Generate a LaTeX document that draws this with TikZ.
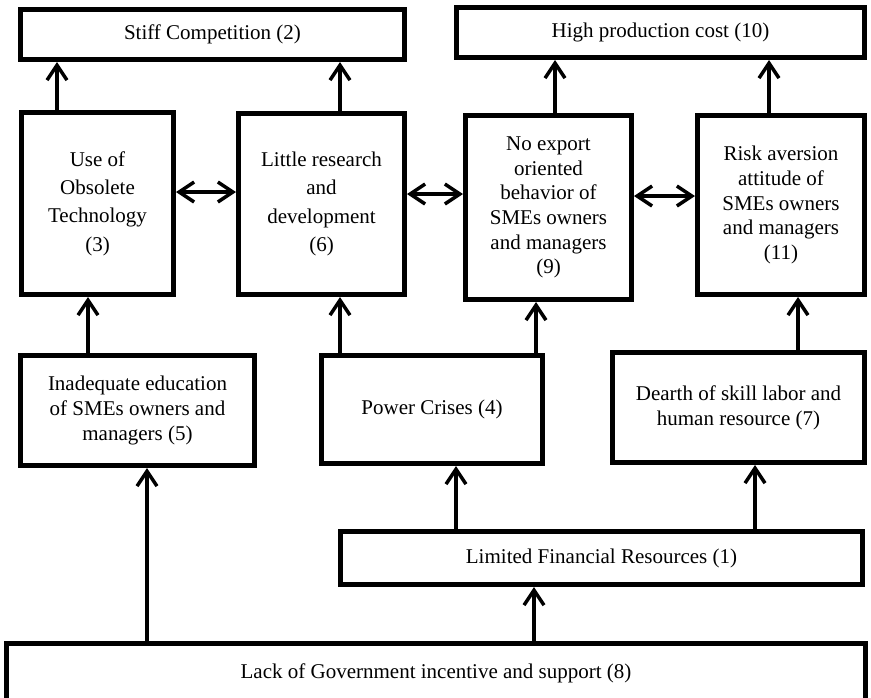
\documentclass[tikz,border=0pt]{standalone}
\usepackage{fontspec}
\setmainfont{Liberation Serif}
\usetikzlibrary{arrows.meta}
\tikzset{
  box/.style={draw=black, line width=5pt, inner sep=0pt, align=center,
              font=\fontsize{21}{24.7}\selectfont},
  wide/.style={font=\fontsize{21}{28.3}\selectfont},
  arr/.style={line width=3.5pt, -{Straight Barb[length=15pt,width=20pt]}},
  darr/.style={line width=3.5pt, {Straight Barb[length=15pt,width=20pt]}-{Straight Barb[length=15pt,width=20pt]}}
}
\begin{document}
\begin{tikzpicture}[x=1pt,y=-1pt]
\useasboundingbox (0,0) rectangle (871,697);
\node[box, minimum width=384pt, minimum height=50pt] (n2) at (212.5,34.5) {Stiff Competition (2)};
\node[box, minimum width=408pt, minimum height=50pt] (n10) at (660.5,32.5) {High production cost (10)};
\node[box, wide, minimum width=152pt, minimum height=182pt] (n3) at (97.5,203.5) {Use of\\Obsolete\\Technology\\(3)};
\node[box, wide, minimum width=166pt, minimum height=181pt] (n6) at (321.5,204) {Little research\\and\\development\\(6)};
\node[box, minimum width=166pt, minimum height=184pt] (n9) at (548.5,207.5) {No export\\oriented\\behavior of\\SMEs owners\\and managers\\(9)};
\node[box, minimum width=167pt, minimum height=179pt] (n11) at (781,205) {Risk aversion\\attitude of\\SMEs owners\\and managers\\(11)};
\node[box, minimum width=234pt, minimum height=110pt] (n5) at (137.5,410.5) {Inadequate education\\of SMEs owners and\\managers (5)};
\node[box, minimum width=221pt, minimum height=108pt] (n4) at (432,409.5) {Power Crises (4)};
\node[box, minimum width=252pt, minimum height=110pt] (n7) at (738.5,407.5) {Dearth of skill labor and\\human resource (7)};
\node[box, minimum width=522pt, minimum height=53pt] (n1) at (601.5,558) {Limited Financial Resources (1)};
\node[box, minimum width=859pt, minimum height=59pt] (n8) at (436,673) {Lack of Government incentive and support (8)};

\draw[arr] (n3.north -| 57,0) -- (n2.south -| 57,0);
\draw[arr] (n6.north -| 340,0) -- (n2.south -| 340,0);
\draw[arr] (n9.north -| 555,0) -- (n10.south -| 555,0);
\draw[arr] (n11.north -| 769,0) -- (n10.south -| 769,0);
\draw[arr] (n5.north -| 88,0) -- (n3.south -| 88,0);
\draw[arr] (n4.north -| 340,0) -- (n6.south -| 340,0);
\draw[arr] (n4.north -| 536,0) -- (n9.south -| 536,0);
\draw[arr] (n7.north -| 798,0) -- (n11.south -| 798,0);
\draw[arr] (n8.north -| 147,0) -- (n5.south -| 147,0);
\draw[arr] (n1.north -| 456,0) -- (n4.south -| 456,0);
\draw[arr] (n1.north -| 755,0) -- (n7.south -| 755,0);
\draw[arr] (n8.north -| 534,0) -- (n1.south -| 534,0);

\draw[darr] (n3.east |- 0,192) -- (n6.west |- 0,192);
\draw[darr] (n6.east |- 0,194) -- (n9.west |- 0,194);
\draw[darr] (n9.east |- 0,196) -- (n11.west |- 0,196);
\end{tikzpicture}
\end{document}
